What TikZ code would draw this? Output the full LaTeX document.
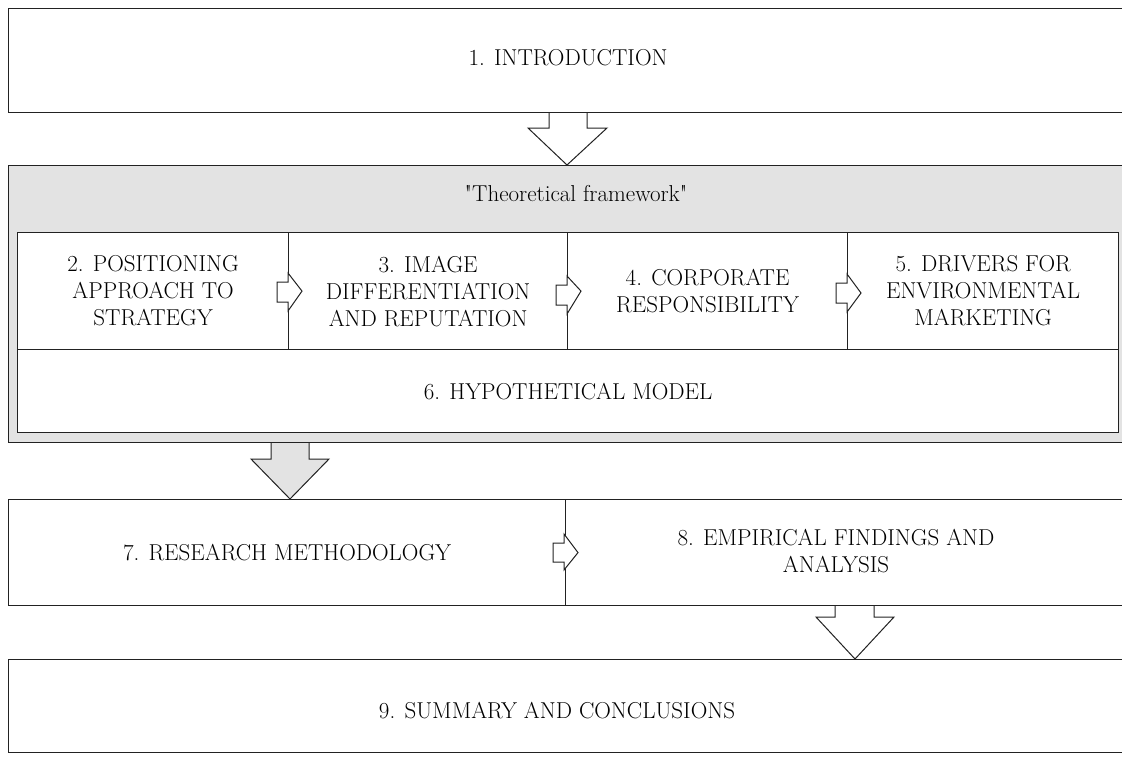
\documentclass[tikz,border=0pt]{standalone}
\usetikzlibrary{calc}
\definecolor{greybg}{HTML}{E3E3E3}
\definecolor{linec}{HTML}{222222}
\tikzset{
  box/.style={draw=linec, line width=1.2pt, fill=white, anchor=north west, inner sep=0pt, align=center, font=\fontsize{23}{27}\selectfont},
  barrow/.style={draw=linec, line width=1pt, fill=white, line join=miter},
  garrow/.style={draw=linec, line width=1pt, fill=greybg, line join=miter},
}
\begin{document}
\begin{tikzpicture}[x=1pt,y=-1pt]
\useasboundingbox (0,0) rectangle (1122,756);
\clip (0,0) rectangle (1122,756);
% boxes
\node[box, minimum width=1130pt, minimum height=104pt] (intro) at (8,8) {};
\node[font=\fontsize{23}{27}\selectfont] (introlab) at (568,58) {1. INTRODUCTION};
\node[box, fill=greybg, minimum width=1140pt, minimum height=277pt] (theo) at (8,165) {};
\node[font=\fontsize{23}{27}\selectfont] (theolab) at (576,194) {\textquotedbl Theoretical framework\textquotedbl};
\node[box, minimum width=271pt, minimum height=117pt] (b2) at (17,232) {2. POSITIONING\\APPROACH TO\\STRATEGY};
\node[box, minimum width=279pt, minimum height=117pt] (b3) at (288,232) {3. IMAGE\\DIFFERENTIATION\\AND REPUTATION};
\node[box, minimum width=280pt, minimum height=117pt] (b4) at (567,232) {4. CORPORATE\\RESPONSIBILITY};
\node[box, minimum width=271pt, minimum height=117pt] (b5) at (847,232) {5. DRIVERS FOR\\ENVIRONMENTAL\\MARKETING};
\node[box, minimum width=1101pt, minimum height=83pt] (b6) at (17,349) {6. HYPOTHETICAL MODEL};
\node[box, minimum width=557pt, minimum height=106pt] (b7) at (8,499) {7. RESEARCH METHODOLOGY};
\node[box, minimum width=580pt, minimum height=106pt] (b8) at (565,499) {};
\node[font=\fontsize{23}{27}\selectfont, align=center] (b8lab) at (836,551) {8. EMPIRICAL FINDINGS AND\\ANALYSIS};
\node[box, minimum width=1130pt, minimum height=93pt] (b9) at (8,659) {};
\node[font=\fontsize{23}{27}\selectfont] (b9lab) at (557,711) {9. SUMMARY AND CONCLUSIONS};
% block arrows down
\draw[barrow] (549,0 |- intro.south) -- (549,128) -- (528,128) -- (567,0 |- theo.north) -- (607,128) -- (587,128) -- (587,0 |- intro.south);
\draw[garrow] (271,0 |- theo.south) -- (271,459) -- (251,459) -- (290,0 |- b7.north) -- (329,459) -- (309,459) -- (309,0 |- theo.south);
\draw[barrow] (835,0 |- b8.south) -- (835,617) -- (816,617) -- (855,0 |- b9.north) -- (894,617) -- (874,617) -- (874,0 |- b8.south);
% block arrows right
\draw[barrow] (277,282) -- (288,282) -- (288,273) -- (302,0 |- b2.east) -- (288,311) -- (288,302) -- (277,302) -- cycle;
\draw[barrow] (556,285) -- (567,285) -- (567,276) -- (581,0 |- b3.east) -- (567,314) -- (567,305) -- (556,305) -- cycle;
\draw[barrow] (836,283) -- (847,283) -- (847,274) -- (861,293) -- (847,312) -- (847,303) -- (836,303) -- cycle;
\draw[barrow] (553,543) -- (564,543) -- (564,534) -- (578,0 |- b7.east) -- (564,570) -- (564,562) -- (553,562) -- cycle;
\end{tikzpicture}
\end{document}
